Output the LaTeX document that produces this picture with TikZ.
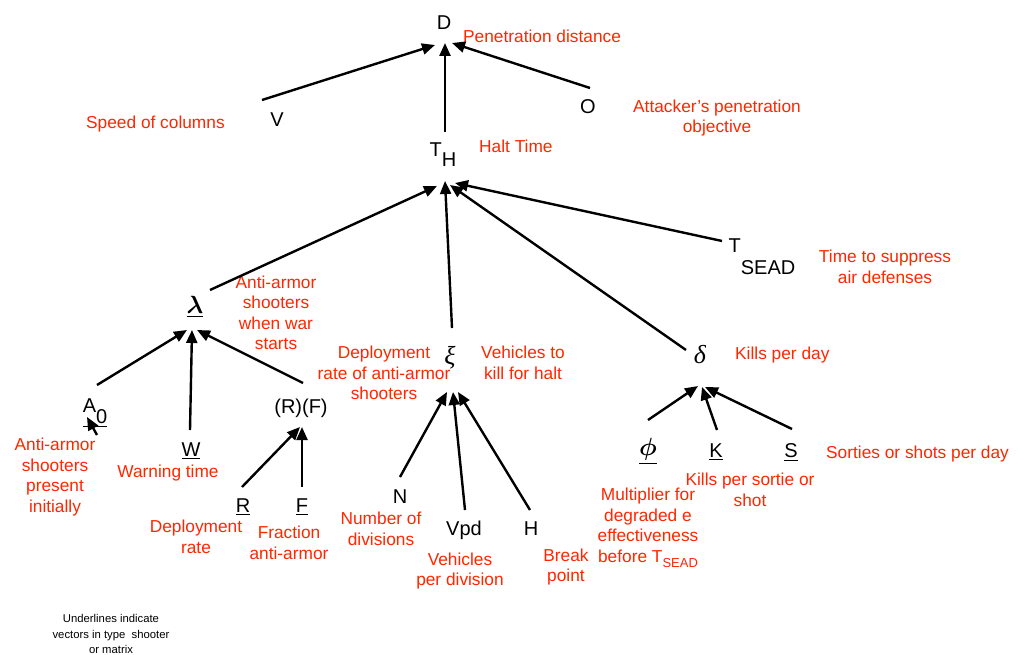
\documentclass[tikz,border=0pt]{standalone}
\usepackage{fontspec}
\usepackage{amsmath}
\setmainfont{Liberation Sans}
\newfontfamily\greekfont{Liberation Serif}
\usetikzlibrary{arrows.meta}
\definecolor{notered}{RGB}{255,38,0}

\begin{document}
\begin{tikzpicture}[
x=1pt, y=-1pt,
>={Triangle[length=13pt,width=11pt]},
var/.style={inner sep=0pt, anchor=base, font=\fontsize{20}{24}\selectfont},
greek/.style={inner sep=0pt, anchor=base, font=\fontsize{24}{28}\selectfont},
serifgreek/.style={inner sep=0pt, anchor=base, font=\fontsize{26}{30}\greekfont\itshape},
note/.style={inner sep=0pt, text=notered, align=center, font=\fontsize{17.3}{20.5}\selectfont},
link/.style={->, line width=2.4pt}
]
\useasboundingbox (0,0) rectangle (1020,655);

% top level
\node[var] (D) at (444,30) {D};
\node[var] (V) at (277,127) {V};
\node[var] (O) at (588,114) {O};
\node[var] (TH) at (443,157) {T\raisebox{-10pt}{H}};
\node[var] (TSEAD) at (762,252) {T\raisebox{-22pt}{SEAD}};

% second level
\node[greek] (lam) at (195,313) {$\underline{\boldsymbol{\lambda}}$};
\node[serifgreek] (xi) at (450,364) {ξ};
\node[serifgreek] (delta) at (700,363) {δ};

% leaves
\node[var] (A0) at (95,412) {\underline{A\raisebox{-11pt}{0}}};
\node[var] (W) at (191,456) {\underline{W}};
\node[var] (RF) at (301,413) {(R)(F)};
\node[var] (R) at (243,512) {\underline{R}};
\node[var] (F) at (302,512) {\underline{F}};
\node[var] (N) at (400,503) {N};
\node[var] (Vpd) at (464,535) {Vpd};
\node[var] (H) at (531,535) {H};
\node[greek] (phi) at (648,455) {$\underline{\boldsymbol{\phi}}$};
\node[var] (K) at (716,457) {\underline{K}};
\node[var] (S) at (791,457) {\underline{S}};

% red notes
\node[note, anchor=base west] (nD) at (463,43) {Penetration distance};
\node[note, anchor=base west] (nV) at (86,129) {Speed of columns};
\node[note] (nO) at (717,118) {Attacker’s penetration\\objective};
\node[note, anchor=base west] (nTH) at (479,153) {Halt Time};
\node[note] (nTSEAD) at (885,267) {Time to suppress\\air defenses};
\node[note] (nlam) at (276,313) {Anti-armor\\shooters\\when war\\starts};
\node[note] (nRF) at (384,373) {Deployment\\rate of anti-armor\\shooters};
\node[note] (nxi) at (523,363) {Vehicles to\\kill for halt};
\node[note, anchor=base west] (ndelta) at (735,359) {Kills per day};
\node[note] (nA0) at (55,477) {Anti-armor\\shooters\\present\\initially};
\node[note] (nW) at (168,473) {Warning time};
\node[note] (nR) at (196,537) {Deployment\\rate};
\node[note] (nF) at (289,543) {Fraction\\anti-armor};
\node[note] (nN) at (381,529) {Number of\\divisions};
\node[note] (nVpd) at (460,571) {Vehicles\\per division};
\node[note] (nH) at (566,567) {Break\\point};
\node[note, anchor=base west] (nS) at (826,458) {Sorties or shots per day};
\node[note] (nK) at (750,490) {Kills per sortie or\\shot};
\node[note] (nphi) at (648,528) {Multiplier for\\degraded e\\effectiveness\\before T\raisebox{-5pt}{\fontsize{13}{13}\selectfont SEAD}};

\node[align=center, inner sep=0pt, font=\fontsize{11.3}{15.5}\selectfont] (foot) at (111,634)
{Underlines indicate\\vectors in type~ shooter\\or matrix};

% links
\draw[link] ([shift={(-15,-27)}]V.base) -- ([shift={(-9,15)}]D.base);
\draw[link] ([shift={(2,-25)}]TH.base) -- ([shift={(1,13)}]D.base);
\draw[link] ([shift={(2,-26)}]O.base) -- ([shift={(8,13)}]D.base);

\draw[link] ([shift={(15,-23)}]lam.base) -- ([shift={(-6,29)}]TH.base);
\draw[link] ([shift={(2,-36)}]xi.base) -- ([shift={(2,24)}]TH.base);
\draw[link] ([shift={(-14,-13)}]delta.base) -- ([shift={(7,28)}]TH.base);
\draw[link] ([shift={(-40,-11)}]TSEAD.base) -- ([shift={(12,26)}]TH.base);

\draw[link] ([shift={(2,-27)}]A0.base) -- ([shift={(-8,17)}]lam.base);
\draw[link] ([shift={(-1,-26)}]W.base) -- ([shift={(-3,17)}]lam.base);
\draw[link] ([shift={(2,-30)}]RF.base) -- ([shift={(2,17)}]lam.base);
\draw[link] ([shift={(2,23)}]A0.base) -- ([shift={(-8,5)}]A0.base);

\draw[link] ([shift={(-1,-25)}]R.base) -- ([shift={(-1,14)}]RF.base);
\draw[link] ([shift={(0,-25)}]F.base) -- ([shift={(1,14)}]RF.base);

\draw[link] ([shift={(0,-26)}]N.base) -- ([shift={(-3,28)}]xi.base);
\draw[link] ([shift={(1,-25)}]Vpd.base) -- ([shift={(3,28)}]xi.base);
\draw[link] ([shift={(-1,-25)}]H.base) -- ([shift={(8,28)}]xi.base);

\draw[link] ([shift={(0,-35)}]phi.base) -- ([shift={(-2,23)}]delta.base);
\draw[link] ([shift={(1,-27)}]K.base) -- ([shift={(2,24)}]delta.base);
\draw[link] ([shift={(1,-28)}]S.base) -- ([shift={(5,24)}]delta.base);

\end{tikzpicture}
\end{document}
